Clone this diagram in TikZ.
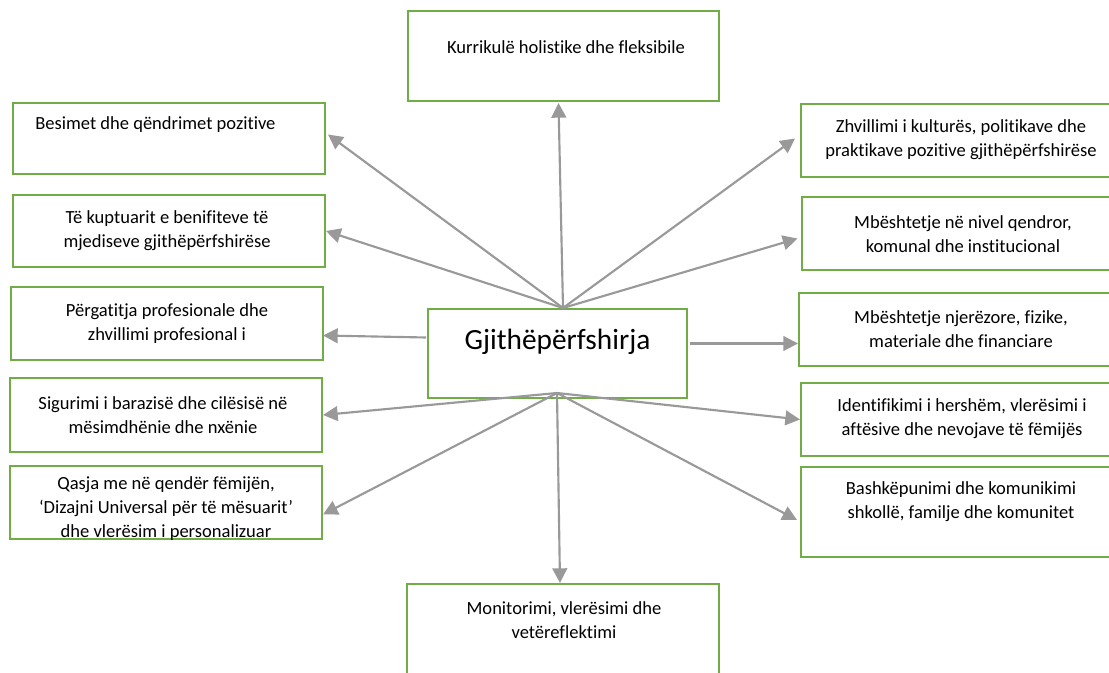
\documentclass[tikz,border=0pt]{standalone}
\usepackage{fontspec}
\setmainfont{Carlito}[Ligatures={NoCommon,NoRequired,NoContextual}]
\usetikzlibrary{arrows.meta,calc}
\definecolor{boxgreen}{HTML}{70AD47}
\definecolor{arrowgray}{HTML}{999999}

\begin{document}
\begin{tikzpicture}[x=0.75pt, y=-0.75pt,
    box/.style={draw=boxgreen, line width=1.5pt, fill=white, inner sep=0pt, minimum width=234pt, minimum height=54.75pt},
    rbox/.style={box, minimum width=241.5pt},
    txt/.style={font=\fontsize{13.9}{18}\selectfont, align=center, inner sep=0pt},
    spoke/.style={-{Triangle[length=11pt, width=11pt]}, line width=1.6pt, arrowgray}
]
    \clip (0,0) rectangle (1109,673);

    % Centre box
    \node[box, minimum width=194.25pt, minimum height=66.75pt] (gjith) at (557.5,353.5) {};
    \node[txt, font=\fontsize{22}{26}\selectfont] (gjith-t) at (557.5,342) {Gjithëpërfshirja};

    % Top and bottom boxes
    \node[box, minimum width=233.25pt, minimum height=67.5pt] (kurrikula) at (563.5,56) {};
    \node[txt] (kurrikula-t) at (566,47) {Kurrikulë holistike dhe fleksibile};
    \node[box, minimum height=72pt] (monitorimi) at (563,632) {};
    \node[txt] (monitorimi-t) at (564,620) {Monitorimi, vlerësimi dhe\\vetëreflektimi};

    % Left column
    \node[box, minimum height=53.25pt] (besimet) at (169,138.5) {};
    \node[txt, anchor=west] (besimet-t) at (35,125) {Besimet dhe qëndrimet pozitive};
    \node[box, minimum height=54pt] (kuptuarit) at (169,231) {};
    \node[txt] (kuptuarit-t) at (167,231) {Të kuptuarit e benifiteve të\\mjediseve gjithëpërfshirëse};
    \node[box] (pergatitja) at (167,323.5) {};
    \node[txt] (pergatitja-t) at (167,323.5) {Përgatitja profesionale dhe\\zhvillimi profesional i};
    \node[box, minimum height=55.5pt] (sigurimi) at (166,415) {};
    \node[txt] (sigurimi-t) at (163,415) {Sigurimi i barazisë dhe cilësisë në\\mësimdhënie dhe nxënie};
    \node[box] (qasja) at (166,502.5) {};
    \node[txt] (qasja-t) at (166,508.5) {Qasja me në qendër fëmijën,\\‘Dizajni Universal për të mësuarit’\\dhe vlerësim i personalizuar};

    % Right column
    \node[rbox] (zhvillimi) at (962,140.5) {};
    \node[txt] (zhvillimi-t) at (961,140) {Zhvillimi i kulturës, politikave dhe\\praktikave pozitive gjithëpërfshirëse};
    \node[rbox] (mbeshtetje) at (962.5,233.5) {};
    \node[txt] (mbeshtetje-t) at (963,234) {Mbështetje në nivel qendror,\\komunal dhe institucional};
    \node[rbox, minimum width=243pt] (burimet) at (961,329.5) {};
    \node[txt] (burimet-t) at (961,329) {Mbështetje njerëzore, fizike,\\materiale dhe financiare};
    \node[rbox] (identifikimi) at (962,419.5) {};
    \node[txt] (identifikimi-t) at (962,419) {Identifikimi i hershëm, vlerësimi i\\aftësive dhe nevojave të fëmijës};
    \node[rbox, minimum height=67.5pt] (bashkepunimi) at (962,512) {};
    \node[txt] (bashkepunimi-t) at (961,502) {Bashkëpunimi dhe komunikimi\\shkollë, familje dhe komunitet};

    % Spokes
    \coordinate (hubn) at (563,308);
    \coordinate (hubs) at (557,393);
    \draw[spoke] (hubn) -- ($(kurrikula.south)+(-5,1)$);
    \draw[spoke] (hubn) -- ($(besimet.east)+(2,-4)$);
    \draw[spoke] (hubn) -- (kuptuarit.east);
    \draw[spoke] (hubn) -- ($(zhvillimi.west)+(-5,-2)$);
    \draw[spoke] (hubn) -- ($(mbeshtetje.west)+(-3,5)$);
    \draw[spoke] ($(gjith.west)+(-1,-16)$) -- ($(pergatitja.east)+(-1,12)$);
    \draw[spoke] ($(gjith.east)+(2,-10)$) -- ($(burimet.west)+(0,14)$);
    \draw[spoke] (hubs) -- (sigurimi.east);
    \draw[spoke] (hubs) -- ($(qasja.east)+(0,12)$);
    \draw[spoke] (hubs) -- (identifikimi.west);
    \draw[spoke] (hubs) -- ($(bashkepunimi.west)+(-3,8)$);
    \draw[spoke] (hubs) -- ($(monitorimi.north)+(-3,0)$);
\end{tikzpicture}
\end{document}
